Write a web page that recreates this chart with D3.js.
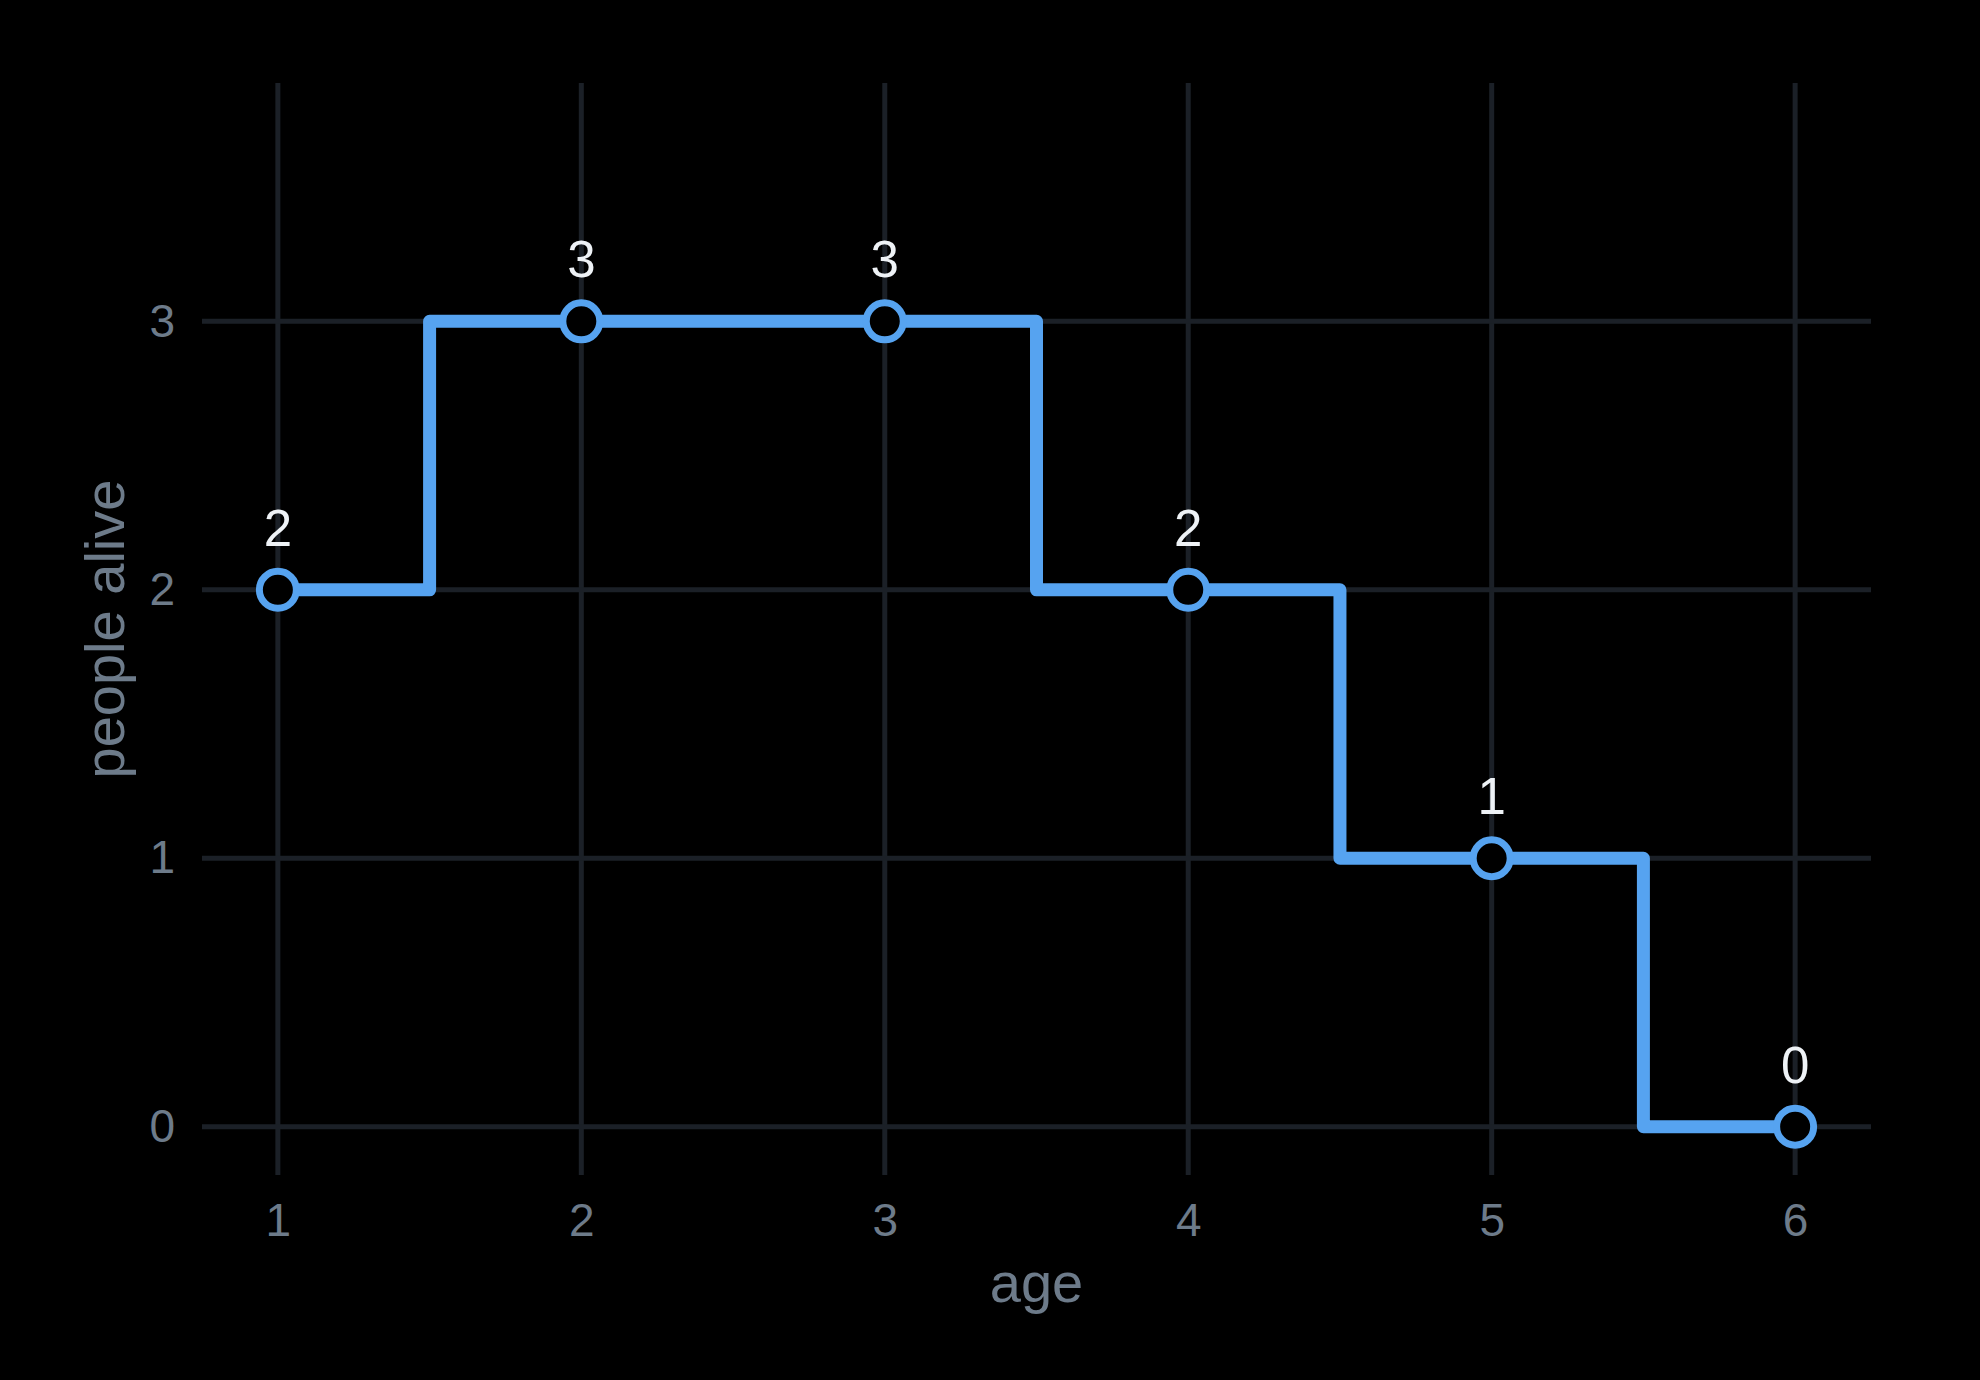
<!DOCTYPE html>
<html>
<head>
<meta charset="utf-8">
<script src="https://cdn.jsdelivr.net/npm/d3@7"></script>
<style>
  html, body { margin: 0; padding: 0; background: #000; }
  svg { display: block; }
  text { font-family: "Liberation Sans", Arial, sans-serif; }
</style>
</head>
<body>
<div id="chart"></div>
<script>
// data
const ages = [1, 2, 3, 4, 5, 6];
const alive = [2, 3, 3, 2, 1, 0];
const xTicks = [1, 2, 3, 4, 5, 6];
const yTicks = [0, 1, 2, 3];

const width = 1980, height = 1380;
const panel = { left: 202, right: 1871, top: 83, bottom: 1175 };

const svg = d3.select('#chart')
    .append('svg')
    .attr('width', width)
    .attr('height', height);

svg.append('rect')
    .attr('width', width)
    .attr('height', height)
    .attr('fill', '#000');

const x = d3.scaleLinear()
    .domain([0.75, 6.25])
    .range([panel.left, panel.right]);

const y = d3.scaleLinear()
    .domain([-0.18, 3.888])
    .range([panel.bottom, panel.top]);

const gridColor = '#1b2027';
const tickColor = '#6d7b8a';

// grid lines
svg.append('g')
    .selectAll('line')
    .data(xTicks)
    .join('line')
    .attr('x1', d => x(d)).attr('x2', d => x(d))
    .attr('y1', panel.top).attr('y2', panel.bottom)
    .attr('stroke', gridColor)
    .attr('stroke-width', 5);

svg.append('g')
    .selectAll('line')
    .data(yTicks)
    .join('line')
    .attr('x1', panel.left).attr('x2', panel.right)
    .attr('y1', d => y(d)).attr('y2', d => y(d))
    .attr('stroke', gridColor)
    .attr('stroke-width', 5);

// axes (labels only, no domain/ticks)
const xAxis = svg.append('g')
    .attr('transform', 'translate(0,' + panel.bottom + ')')
    .call(d3.axisBottom(x).tickValues(xTicks).tickFormat(d3.format('d')).tickSize(0).tickPadding(28));
xAxis.select('.domain').remove();
xAxis.selectAll('text')
    .attr('fill', tickColor)
    .attr('font-size', 46)
    .attr('font-family', '"Liberation Sans", Arial, sans-serif');

const yAxis = svg.append('g')
    .attr('transform', 'translate(' + panel.left + ',0)')
    .call(d3.axisLeft(y).tickValues(yTicks).tickFormat(d3.format('d')).tickSize(0).tickPadding(27));
yAxis.select('.domain').remove();
yAxis.selectAll('text')
    .attr('fill', tickColor)
    .attr('font-size', 46)
    .attr('font-family', '"Liberation Sans", Arial, sans-serif');

// axis titles
svg.append('text')
    .attr('x', (panel.left + panel.right) / 2)
    .attr('y', 1302)
    .attr('text-anchor', 'middle')
    .attr('fill', tickColor)
    .attr('font-size', 56)
    .text('age');

svg.append('text')
    .attr('transform', 'translate(124,' + (panel.top + panel.bottom) / 2 + ') rotate(-90)')
    .attr('text-anchor', 'middle')
    .attr('fill', tickColor)
    .attr('font-size', 56)
    .text('people alive');

const points = ages.map((a, i) => ({ age: a, n: alive[i] }));
const blue = '#56a3f0';

// step line
svg.append('path')
    .datum(points)
    .attr('fill', 'none')
    .attr('stroke', blue)
    .attr('stroke-width', 13)
    .attr('stroke-linejoin', 'round')
    .attr('d', d3.line()
        .x(d => x(d.age))
        .y(d => y(d.n))
        .curve(d3.curveStep));

// points
svg.append('g')
    .selectAll('circle')
    .data(points)
    .join('circle')
    .attr('cx', d => x(d.age))
    .attr('cy', d => y(d.n))
    .attr('r', 18.5)
    .attr('fill', '#000')
    .attr('stroke', blue)
    .attr('stroke-width', 7);

// value labels
svg.append('g')
    .selectAll('text')
    .data(points)
    .join('text')
    .attr('x', d => x(d.age))
    .attr('y', d => y(d.n) - 44)
    .attr('text-anchor', 'middle')
    .attr('fill', '#eef2f6')
    .attr('font-size', 51)
    .text(d => d.n);
</script>
</body>
</html>
